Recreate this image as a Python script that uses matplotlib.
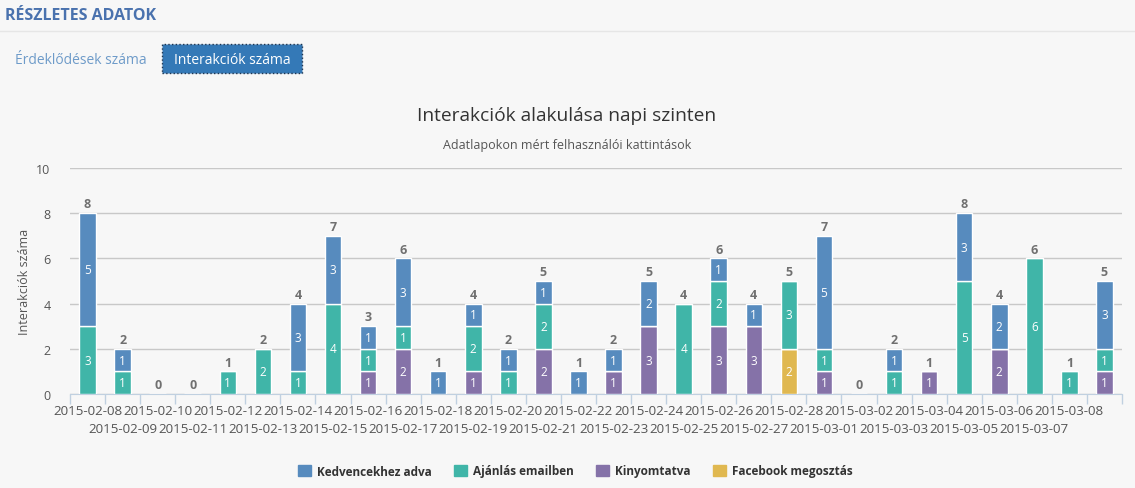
import matplotlib.pyplot as plt
import matplotlib.patches as mpatches
import numpy as np

plt.rcParams['font.family'] = ['Open Sans', 'DejaVu Sans']

# napok
dates = ["2015-02-08", "2015-02-09", "2015-02-10", "2015-02-11", "2015-02-12",
         "2015-02-13", "2015-02-14", "2015-02-15", "2015-02-16", "2015-02-17",
         "2015-02-18", "2015-02-19", "2015-02-20", "2015-02-21", "2015-02-22",
         "2015-02-23", "2015-02-24", "2015-02-25", "2015-02-26", "2015-02-27",
         "2015-02-28", "2015-03-01", "2015-03-02", "2015-03-03", "2015-03-04",
         "2015-03-05", "2015-03-06", "2015-03-07", "2015-03-08", "2015-03-09"]

kedvenc = [5, 1, 0, 0, 0, 0, 3, 3, 1, 3, 1, 1, 1, 1, 1, 1, 2, 0, 1, 1, 0, 5, 0, 1, 0, 3, 2, 0, 0, 3]
ajanlas = [3, 1, 0, 0, 1, 2, 1, 4, 1, 1, 0, 2, 1, 2, 0, 0, 0, 4, 2, 0, 3, 1, 0, 1, 0, 5, 0, 6, 1, 1]
nyomtat = [0, 0, 0, 0, 0, 0, 0, 0, 1, 2, 0, 1, 0, 2, 0, 1, 3, 0, 3, 3, 0, 1, 0, 0, 1, 0, 2, 0, 0, 1]
facebook = [0, 0, 0, 0, 0, 0, 0, 0, 0, 0, 0, 0, 0, 0, 0, 0, 0, 0, 0, 0, 2, 0, 0, 0, 0, 0, 0, 0, 0, 0]

series_names = ["Kedvencekhez adva", "Ajánlás emailben", "Kinyomtatva", "Facebook megosztás"]
colors = ["#578BBE", "#40B5A8", "#8572A8", "#E0B850"]
BG = "#F7F7F7"

W, H = 1135, 489
fig = plt.figure(figsize=(W / 100, H / 100), dpi=100, facecolor=BG)

# fejlec
fig.text(5 / W, 1 - 16 / H, "RÉSZLETES ADATOK", color="#4A72AE", fontsize=11.5,
         weight="bold", va="center", ha="left")
fig.add_artist(plt.Line2D([0, 1], [1 - 32 / H, 1 - 32 / H], color="#E6E6E6", lw=1))
fig.text(15 / W, 1 - 60 / H, "Érdeklődések száma", color="#6E9BC9", fontsize=10,
         va="center", ha="left")
btn = mpatches.Rectangle((162 / W, 1 - 74 / H), 140 / W, 29 / H, transform=fig.transFigure,
                         facecolor="#3479B7", edgecolor="#1F3550", lw=1, ls=":")
fig.add_artist(btn)
fig.text(232 / W, 1 - 60 / H, "Interakciók száma", color="white", fontsize=10,
         va="center", ha="center")

fig.text(567 / W, 1 - 116 / H, "Interakciók alakulása napi szinten", color="#333333",
         fontsize=13.8, ha="center", va="center")
fig.text(567 / W, 1 - 146 / H, "Adatlapokon mért felhasználói kattintások", color="#555555",
         fontsize=9, ha="center", va="center")

ax = fig.add_axes([70 / W, (H - 395) / H, 1052 / W, 226 / H])
ax.set_facecolor(BG)

x = np.arange(len(dates))
stack = [facebook, nyomtat, ajanlas, kedvenc]
stack_cols = [colors[3], colors[2], colors[1], colors[0]]
bottom = np.zeros(len(dates))
for vals, col in zip(stack, stack_cols):
    vals = np.array(vals)
    ax.bar(x, vals, bottom=bottom, width=0.47, color=col, edgecolor="white", lw=1, zorder=3)
    for xi, v, b in zip(x, vals, bottom):
        if v > 0:
            ax.text(xi, b + v / 2, str(v), color="white", fontsize=8.5,
                    ha="center", va="center", zorder=4)
    bottom = bottom + vals

for xi, t in zip(x, bottom):
    ax.text(xi, t + 0.12, str(int(t)), color="#707070", fontsize=9, weight="bold",
            ha="center", va="bottom", zorder=4)

ax.set_xlim(-0.5, len(dates) - 0.5)
ax.set_ylim(0, 10)
ax.set_yticks([0, 2, 4, 6, 8, 10])
ax.grid(axis="y", color="#C8C8C8", lw=1, zorder=0)
for s in ["top", "right", "left"]:
    ax.spines[s].set_visible(False)
ax.spines["bottom"].set_color("#C0D0E0")
ax.tick_params(axis="y", length=0, labelsize=9, labelcolor="#555555", pad=14)

ax.set_xticks(np.arange(-0.5, len(dates), 1), minor=False)
ax.set_xticklabels([])
ax.tick_params(axis="x", which="major", length=7, color="#C0D0E0", width=1)
# datum feliratok ket sorban
for i, d in enumerate(dates[:-1]):
    yoff = -0.45 if i % 2 == 0 else -1.25
    ax.text(i, yoff, d, color="#555555", fontsize=9.6, ha="center", va="top",
            transform=ax.transData, clip_on=False)

ax.set_ylabel("Interakciók száma", color="#555555", fontsize=9, labelpad=4)

handles = [mpatches.Patch(color=c, label=n) for c, n in zip(colors, series_names)]
leg = fig.legend(handles=handles, loc="center", bbox_to_anchor=(0.507, 1 - 472 / H), ncol=4,
                 frameon=False, fontsize=8.5, handlelength=1.1, handleheight=1.1,
                 columnspacing=1.9, handletextpad=0.5)
for t in leg.get_texts():
    t.set_weight("bold")
    t.set_color("#333333")

fig.savefig("out.png", dpi=100, facecolor=BG)
